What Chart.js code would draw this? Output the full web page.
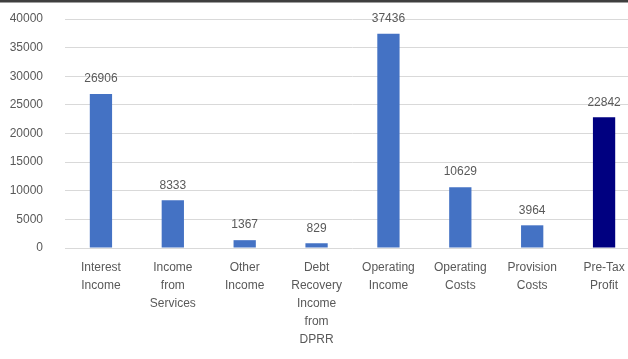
<!DOCTYPE html>
<html>
<head>
<meta charset="utf-8">
<script src="https://cdn.jsdelivr.net/npm/chart.js@4/dist/chart.umd.min.js"></script>
<style>
  html, body { margin: 0; padding: 0; background: #fff; overflow: hidden; }
  #wrap { width: 640px; height: 359px; position: relative; }
</style>
</head>
<body>
<div id="wrap"><canvas id="pnlChart"></canvas></div>
<script>
const categories = [
    ['Interest', 'Income'],
    ['Income', 'from', 'Services'],
    ['Other', 'Income'],
    ['Debt', 'Recovery', 'Income', 'from', 'DPRR'],
    ['Operating', 'Income'],
    ['Operating', 'Costs'],
    ['Provision', 'Costs'],
    ['Pre-Tax', 'Profit']
];
const amounts = [26906, 8333, 1367, 829, 37436, 10629, 3964, 22842];
const barColors = ['#4472C4', '#4472C4', '#4472C4', '#4472C4', '#4472C4', '#4472C4', '#4472C4', '#000080'];

const textGrey = '#595959';
const baseFont = { family: '"Liberation Sans", Arial, sans-serif', size: 12 };

// value above every bar
const valueLabels = {
    id: 'valueLabels',
    afterDatasetsDraw(chart) {
        const c = chart.ctx;
        const meta = chart.getDatasetMeta(0);
        c.save();
        c.font = '12px "Liberation Sans", Arial, sans-serif';
        c.fillStyle = textGrey;
        c.textAlign = 'center';
        c.textBaseline = 'bottom';
        meta.data.forEach((bar, i) => {
            c.fillText(String(amounts[i]), bar.x, bar.y - 9);
        });
        c.restore();
    }
};

// rule along the top edge
const topRule = {
    id: 'topRule',
    beforeDraw(chart) {
        const c = chart.ctx;
        c.save();
        c.fillStyle = '#3f3f3f';
        c.fillRect(0, 0, chart.width, 2.5);
        c.restore();
    }
};

const ctx = document.getElementById('pnlChart').getContext('2d');
const chart = new Chart(ctx, {
    type: 'bar',
    data: {
        labels: categories,
        datasets: [{
            data: amounts,
            backgroundColor: barColors,
            barPercentage: 0.62,
            categoryPercentage: 0.5
        }]
    },
    options: {
        responsive: true,
        maintainAspectRatio: false,
        animation: false,
        layout: { padding: { top: 19, right: 0, bottom: 0, left: 0 } },
        plugins: {
            legend: { display: false },
            tooltip: { enabled: false }
        },
        scales: {
            x: {
                grid: { display: false, drawTicks: false },
                border: { display: false },
                ticks: {
                    color: textGrey,
                    font: Object.assign({ lineHeight: 1.5 }, baseFont),
                    padding: 11,
                    maxRotation: 0,
                    autoSkip: false
                },
                afterFit(scale) {
                    scale.height = 111;
                    scale.paddingTop = 0;
                }
            },
            y: {
                min: 0,
                max: 40000,
                grid: { color: '#d9d9d9', drawTicks: false },
                border: { display: false },
                ticks: {
                    stepSize: 5000,
                    color: textGrey,
                    font: baseFont,
                    padding: 22,
                    callback: (v) => String(v)
                },
                afterFit(scale) {
                    scale.width = 65;
                    scale.paddingTop = 0;
                }
            }
        }
    },
    plugins: [valueLabels, topRule]
});
</script>
</body>
</html>
